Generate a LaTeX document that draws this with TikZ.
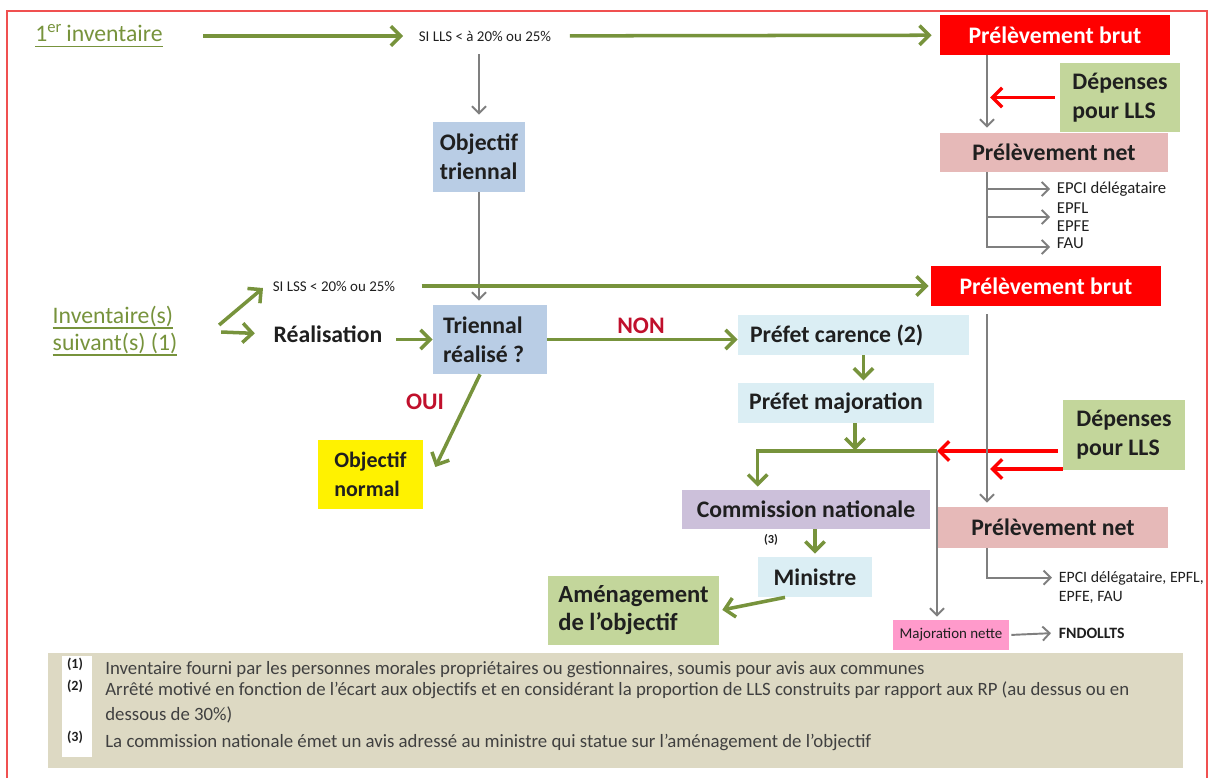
\documentclass[tikz,border=0pt]{standalone}
\usepackage{fontspec}
\setmainfont{Carlito}
\usetikzlibrary{arrows.meta,calc}

\definecolor{vertfleche}{HTML}{77933C}
\definecolor{grisfleche}{HTML}{7F7F7F}
\definecolor{rougevif}{HTML}{FF0000}
\definecolor{rougecadre}{HTML}{F05050}
\definecolor{rougetexte}{HTML}{C0102C}
\definecolor{bleutri}{HTML}{B9CDE5}
\definecolor{bleuprefet}{HTML}{DBEEF4}
\definecolor{vertdep}{HTML}{C3D69B}
\definecolor{rosenet}{HTML}{E6B9B8}
\definecolor{violetcom}{HTML}{CCC0DA}
\definecolor{rosemaj}{HTML}{FF9ACB}
\definecolor{beigenote}{HTML}{DDD9C3}
\definecolor{textebox}{HTML}{1F1F1F}
\definecolor{gristexte}{HTML}{404040}

% thick underline for the green labels
\newcommand\souligne[1]{\setbox0\hbox{#1}\rlap{\rule[-3.2pt]{\wd0}{1.1pt}}\box0}

\begin{document}
\begin{tikzpicture}[x=0.02cm,y=-0.02cm,
  boite/.style={inner sep=0pt,font=\bfseries\fontsize{13.5}{16.5}\selectfont,text=textebox},
  vertlabel/.style={inner sep=2pt,font=\fontsize{13.5}{15.5}\selectfont,text=vertfleche},
  gras/.style={inner sep=2pt,font=\bfseries\fontsize{13.5}{15.5}\selectfont,text=textebox},
  petit/.style={inner sep=2pt,font=\fontsize{8.5}{10}\selectfont,text=textebox},
  note/.style={inner sep=0pt,font=\fontsize{10.7}{14.2}\selectfont,text=gristexte,align=left},
  garrow/.style={draw=vertfleche,line width=2pt,-{Straight Barb[length=5.5pt,width=11pt]}},
  grarrow/.style={draw=grisfleche,line width=1.1pt,-{Straight Barb[length=4pt,width=8pt]}},
  rarrow/.style={draw=rougevif,line width=2pt,-{Straight Barb[length=5.5pt,width=11pt]}}]

\useasboundingbox (0,0) rectangle (1211,778);

% Frame
\draw[rougecadre,line width=1pt] (7,778) -- (7,11) -- (1207,11) -- (1207,778);

% Axes of the two gray columns
\coordinate (axe) at (987,0);
\coordinate (jonc) at (937,451);

% First inventory
\node[vertlabel] (inv1) at (99,36) {\souligne{1\textsuperscript{er}\,inventaire}};
\node[petit] (sill) at (485,36) {SI LLS < à 20\% ou 25\%};
\node[boite,fill=rougevif,text=white,minimum width=4.6cm,minimum height=0.8cm] (brut1) at (1055,35) {Prélèvement brut};
\node[boite,fill=bleutri,align=left,minimum width=1.84cm,minimum height=1.4cm] (objtri) at (479,157) {Objectif\\triennal};
\node[boite,fill=vertdep,align=left,minimum width=2.4cm,minimum height=1.38cm] (dep1) at (1120,97.5) {Dépenses\\pour LLS};
\node[boite,fill=rosenet,minimum width=4.56cm,minimum height=0.78cm] (net1) at (1054,152.5) {Prélèvement net};
\node[petit,anchor=west,font=\fontsize{9.5}{11}\selectfont] (epci1) at (1053,189) {EPCI délégataire};
\node[petit,anchor=west,font=\fontsize{9.5}{11}\selectfont] (epfl) at (1053,208) {EPFL};
\node[petit,anchor=west,font=\fontsize{9.5}{11}\selectfont] (epfe) at (1053,226) {EPFE};
\node[petit,anchor=west,font=\fontsize{9.5}{11}\selectfont] (fau) at (1053,243) {FAU};

\draw[garrow,shorten <=0.74cm,shorten >=0.24cm] (inv1) -- (sill);
\draw[garrow,shorten <=0.3cm,shorten >=0.16cm] (sill) -- (brut1);
\draw[grarrow,shorten <=0.18cm,shorten >=0.14cm] (sill.south -| objtri.north) -- (objtri.north);
\draw[grarrow,shorten >=0.1cm] (brut1.south -| axe) -- (net1.north -| axe);
\draw[rarrow,shorten <=0.1cm,shorten >=0.06cm] (dep1.west) -- (dep1.west -| axe);
\draw[grarrow,shorten >=0.06cm] (net1.south -| axe) |- (epci1.west);
\draw[grarrow,shorten >=0.06cm] (net1.south -| axe) |- ($(epfl.west)!0.5!(epfe.west)$);
\draw[grarrow,shorten >=0.06cm] (net1.south -| axe) |- ([yshift=-0.08cm]fau.west);

% Following inventories
\node[vertlabel,align=left] (invn) at (115,331) {\souligne{Inventaire(s)}\\\souligne{suivant(s) (1)}};
\node[petit] (sills) at (334,286) {SI LSS < 20\% ou 25\%};
\node[gras] (real) at (328,334) {Réalisation};
\node[boite,fill=bleutri,align=flush left,text width=2.28cm-0.4cm,inner xsep=0.2cm,minimum height=1.38cm] (trireal) at (490,339.5) {Triennal\\réalisé ?};
\node[boite,fill=rougevif,text=white,minimum width=4.6cm,minimum height=0.8cm] (brut2) at (1046,286) {Prélèvement brut};
\node[gras,text=rougetexte] (non) at (641,326) {NON};
\node[gras,text=rougetexte] (oui) at (425,402) {OUI};
\node[boite,fill=bleuprefet,align=flush left,text width=4.62cm-0.48cm,inner xsep=0.24cm,minimum height=0.8cm] (carence) at (853.5,335) {Préfet carence (2)};
\node[boite,fill=bleuprefet,minimum width=3.92cm,minimum height=0.8cm] (majo) at (836,403) {Préfet majoration};
\node[boite,fill=vertdep,align=left,minimum width=2.44cm,minimum height=1.4cm] (dep2) at (1124,435) {Dépenses\\pour LLS};
\node[boite,fill=yellow,align=left,minimum width=2.1cm,minimum height=1.38cm,font=\bfseries\fontsize{12.5}{16.5}\selectfont] (objnorm) at (370.5,474.5) {Objectif\\normal};
\node[boite,fill=violetcom,minimum width=4.96cm,minimum height=0.78cm] (comm) at (806,509.5) {Commission nationale};
\node[boite,fill=rosenet,minimum width=4.6cm,minimum height=0.82cm] (net2) at (1053,527.5) {Prélèvement net};
\node[petit,font=\bfseries\fontsize{7}{8}\selectfont] (trois) at (771,540) {(3)};
\node[boite,fill=bleuprefet,minimum width=2.28cm,minimum height=0.8cm] (ministre) at (815,577) {Ministre};
\node[boite,fill=vertdep,align=left,minimum width=3.42cm,minimum height=1.38cm,font=\bfseries\fontsize{14}{16}\selectfont] (amenag) at (633.5,610.5) {Aménagement\\de l’objectif};
\node[petit,align=left,anchor=north west,font=\fontsize{9}{10.5}\selectfont] (epci2) at (1055,568) {EPCI délégataire, EPFL,\\EPFE, FAU};
\node[inner sep=0pt,fill=rosemaj,minimum width=2.32cm,minimum height=0.6cm,font=\fontsize{8.5}{10}\selectfont,text=textebox] (majnet) at (951,635) {Majoration nette};
\node[petit,anchor=west,font=\bfseries\fontsize{9}{10}\selectfont] (fndo) at (1055,633) {FNDOLLTS};

\draw[grarrow,shorten >=0.08cm] (objtri.south) -- (objtri.south |- trireal.north);
\draw[garrow] ([shift={(38,-6)}]invn.east) -- ([shift={(-6,2)}]sills.west);
\draw[garrow,shorten >=0.3cm] ([shift={(40,1)}]invn.east) -- (real.west);
\draw[garrow,shorten <=0.2cm] (real.east |- trireal.west) -- (trireal.west);
\draw[garrow,shorten <=0.45cm,shorten >=0.04cm] (sills.east) -- (sills.east -| brut2.west);
\draw[garrow] (trireal.east) -- (trireal.east -| carence.west);
\draw[garrow] ([xshift=-0.2cm]trireal.south) -- ([shift={(0.24cm,0.15cm)}]objnorm.east);
\draw[garrow] ([xshift=0.2cm]carence.south) -- ++(0,25);
\draw[garrow] ([xshift=0.38cm]majo.south) -- ++(0,27);
\draw[garrow,shorten >=0.06cm] (jonc) -| ([xshift=1.52cm]comm.north west);
\draw[rarrow,shorten <=0.1cm] (dep2.west |- jonc) -- (jonc);
\coordinate (r2) at ([yshift=-0.68cm]dep2.west);
\draw[rarrow,shorten >=0.06cm] (r2) -- (r2 -| axe);
\draw[grarrow,shorten <=0.16cm,shorten >=0.08cm] (brut2.south -| axe) -- (net2.north -| axe);
\draw[grarrow,shorten >=0.06cm] (jonc) -- (jonc |- majnet.north);
\draw[grarrow,shorten >=0.06cm] (net2.south -| axe) |- ([yshift=0.2cm]epci2.west);
\draw[grarrow,shorten <=0.04cm,shorten >=0.08cm] (majnet.east) -- (fndo.west);
\draw[garrow,shorten >=0.06cm] (comm.south -| ministre.north) -- (ministre.north);
\draw[garrow,shorten >=0.06cm] ([xshift=-0.6cm]ministre.south) -- (amenag.east);

% Notes
\node[fill=beigenote,inner sep=0pt,minimum width=22.7cm,minimum height=2.3cm] (notes) at (615.5,710.5) {};
\node[fill=white,inner sep=0pt,minimum width=0.6cm,minimum height=2.02cm] (bande) at (77,706.5) {};
\node[petit,font=\bfseries\fontsize{8}{9}\selectfont] (m1) at (75,664) {(1)};
\node[petit,font=\bfseries\fontsize{8}{9}\selectfont] (m2) at (75,686) {(2)};
\node[petit,font=\bfseries\fontsize{8}{9}\selectfont] (m3) at (75,737) {(3)};
\node[note,anchor=west] (n1) at (105,670) {Inventaire fourni par les personnes morales propriétaires ou gestionnaires, soumis pour avis aux communes};
\node[note,anchor=north west] (n2) at (105,681) {Arrêté motivé en fonction de l’écart aux objectifs et en considérant la proportion de LLS construits par rapport aux RP (au dessus ou en\\dessous de 30\%)};
\node[note,anchor=west] (n3) at (105,742) {La commission nationale émet un avis adressé au ministre qui statue sur l’aménagement de l’objectif};

\end{tikzpicture}
\end{document}
